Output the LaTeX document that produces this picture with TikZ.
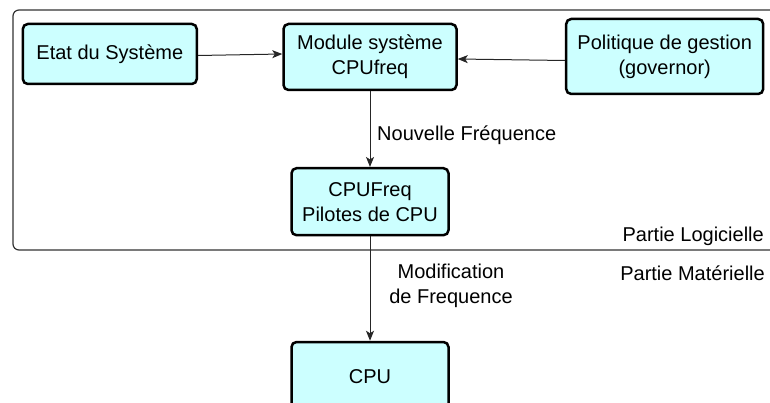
\documentclass[tikz,border=0pt]{standalone}
\usepackage{fontspec}
\setmainfont{Liberation Sans}
\usetikzlibrary{arrows.meta}
\definecolor{boxfill}{RGB}{204,255,255}
\tikzset{
  blk/.style={draw=black, line width=2.5pt, fill=boxfill, rounded corners=5pt,
    align=center, inner sep=0pt, font=\fontsize{20}{25}\selectfont},
  arr/.style={draw=black!85, line width=1pt, -{Stealth[length=10pt,width=8pt,inset=2.5pt]}},
  lbl/.style={inner sep=0pt, align=center, font=\fontsize{20}{25}\selectfont},
}
\begin{document}
\begin{tikzpicture}[x=1pt,y=-1pt]
\useasboundingbox (0,0) rectangle (770,403);
% software area frame (open to the right)
\draw[black!80, line width=1.2pt, rounded corners=6pt] (13,10) rectangle (790,250);

\node[blk, minimum width=174pt, minimum height=60pt] (etat) at (109.8,54) {Etat du Système};
\node[blk, minimum width=173pt, minimum height=66pt] (mod) at (370,57) {Module système\\CPUfreq};
\node[blk, minimum width=197pt, minimum height=75pt] (pol) at (664.7,56.5) {Politique de gestion\\(governor)};
\node[blk, minimum width=157pt, minimum height=67pt] (pil) at (370,201.7) {CPUFreq\\Pilotes de CPU};
\node[blk, minimum width=157pt, minimum height=70pt] (cpu) at (370,377) {CPU};

\draw[arr] ([yshift=-1.5pt]etat.east) -- (etat.east -| mod.west);
\draw[arr] ([yshift=-4pt]pol.west) -- ([yshift=-2pt]mod.east);
\draw[arr] (mod.south) -- (pil.north);
\draw[arr] (pil.south) -- (cpu.north);

\node[lbl, anchor=west] (nf) at (377,135) {Nouvelle Fréquence};
\node[lbl, anchor=east] (plog) at (764,236) {Partie Logicielle};
\node[lbl, anchor=east] (pmat) at (765,273) {Partie Matérielle};
\node[lbl] (modf) at (451,285.5) {Modification\\de Frequence};
\end{tikzpicture}
\end{document}
